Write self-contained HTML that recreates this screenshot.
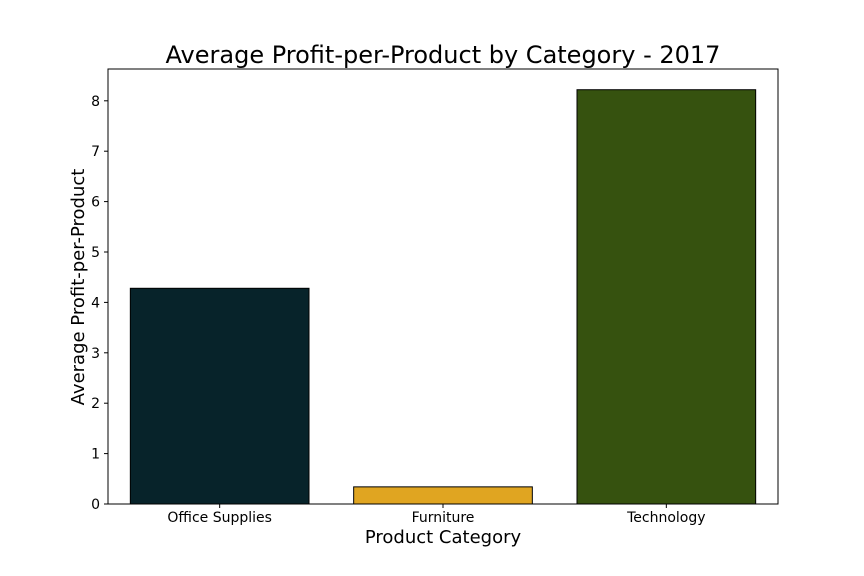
<!DOCTYPE html>
<html><head><meta charset="utf-8"><style>
body{margin:0;background:#fff;}
svg{display:block;font-family:"DejaVu Sans","Liberation Sans",sans-serif;}
</style></head><body>
<svg id="chart" width="864" height="576" viewBox="0 0 864 576">
<rect width="864" height="576" fill="#fff"/>
<text x="443" y="63" text-anchor="middle" font-size="24" fill="#000">Average Profit-per-Product by Category - 2017</text>
<g id="bars"></g>
<g id="yticks"></g>
<g id="xticks"></g>
<rect x="108" y="69" width="670" height="435" fill="none" stroke="#000" stroke-width="1"/>
<text x="443" y="543" text-anchor="middle" font-size="18">Product Category</text>
<text transform="translate(84,287) rotate(-90)" text-anchor="middle" font-size="18">Average Profit-per-Product</text>
</svg>
<script>
const categories = ["Office Supplies", "Furniture", "Technology"];
const values = [4.28, 0.34, 8.22];
const colors = ["#07232a", "#e0a521", "#36520f"];
const yTickLabels = [0, 1, 2, 3, 4, 5, 6, 7, 8];

const NS = "http://www.w3.org/2000/svg";
const plotLeft = 108, plotRight = 778, plotTop = 69, plotBottom = 504;
const yMax = Math.max(...values) * 1.05;
const yScale = v => plotBottom - v / yMax * (plotBottom - plotTop);
const step = (plotRight - plotLeft) / categories.length;
const xScale = i => plotLeft + step * (i + 0.5);
const bw = step * 0.8;

const bars = document.getElementById("bars");
values.forEach((v, i) => {
  const r = document.createElementNS(NS, "rect");
  r.setAttribute("x", xScale(i) - bw / 2);
  r.setAttribute("y", yScale(v));
  r.setAttribute("width", bw);
  r.setAttribute("height", plotBottom - yScale(v));
  r.setAttribute("fill", colors[i]);
  r.setAttribute("stroke", "#000");
  r.setAttribute("stroke-width", "1");
  
  
  bars.appendChild(r);
});

const yt = document.getElementById("yticks");
yTickLabels.forEach(t => {
  const l = document.createElementNS(NS, "line");
  l.setAttribute("x1", plotLeft - 4); l.setAttribute("x2", plotLeft);
  l.setAttribute("y1", yScale(t)); l.setAttribute("y2", yScale(t));
  l.setAttribute("stroke", "#000");
  
  
  yt.appendChild(l);
  const tx = document.createElementNS(NS, "text");
  tx.setAttribute("x", plotLeft - 8); tx.setAttribute("y", yScale(t) + 5);
  tx.setAttribute("text-anchor", "end"); tx.setAttribute("font-size", "14");
  tx.textContent = t;
  
  
  yt.appendChild(tx);
});

const xt = document.getElementById("xticks");
categories.forEach((c, i) => {
  const l = document.createElementNS(NS, "line");
  l.setAttribute("x1", xScale(i)); l.setAttribute("x2", xScale(i));
  l.setAttribute("y1", plotBottom); l.setAttribute("y2", plotBottom + 4);
  l.setAttribute("stroke", "#000");
  
  
  xt.appendChild(l);
  const tx = document.createElementNS(NS, "text");
  tx.setAttribute("x", xScale(i)); tx.setAttribute("y", plotBottom + 18);
  tx.setAttribute("text-anchor", "middle"); tx.setAttribute("font-size", "14");
  tx.textContent = c;
  
  
  xt.appendChild(tx);
});
</script>
</body></html>
